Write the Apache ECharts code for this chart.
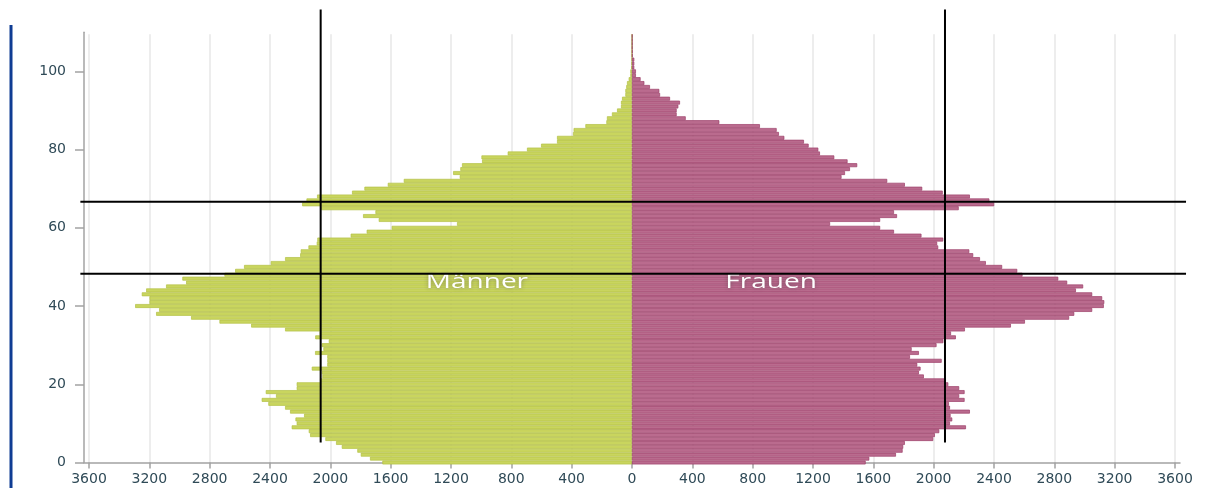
<!DOCTYPE html>
<html>
<head>
<meta charset="utf-8">
<script src="https://cdn.jsdelivr.net/npm/echarts@6/dist/echarts.min.js"></script>
<style>
html, body { margin: 0; padding: 0; background: #ffffff; }
#chart { width: 1205px; height: 488px; }
</style>
</head>
<body>
<div id="chart"></div>
<script>
// ---- data ----
const ages = Array.from({ length: 110 }, (_, i) => i);   // age categories 0..109

const maleValues = [
  1655, 1737, 1798, 1821, 1924, 1962, 2033, 2134, 2143, 2256,
  2223, 2231, 2174, 2267, 2300, 2411, 2455, 2360, 2428, 2223,
  2223, 2068, 2053, 2057, 2123, 2020, 2020, 2020, 2101, 2046,
  2057, 2010, 2100, 2070, 2300, 2525, 2735, 2923, 3155, 3135,
  3294, 3199, 3199, 3250, 3221, 3089, 2956, 2981, 2702, 2631,
  2572, 2395, 2300, 2200, 2196, 2145, 2090, 2086, 1865, 1759,
  1593, 1160, 1679, 1783, 1701, 2061, 2187, 2158, 2088, 1856,
  1774, 1619, 1513, 1142, 1186, 1138, 1127, 994, 998, 824,
  696, 603, 497, 497, 391, 387, 309, 170, 166, 133,
  99, 73, 73, 66, 44, 44, 38, 33, 22, 11,
  11, 5, 3, 2, 1, 1, 0, 0, 0, 0
];

const femaleValues = [
  1549, 1573, 1750, 1794, 1798, 1809, 1997, 2008, 2037, 2214,
  2108, 2123, 2112, 2240, 2108, 2101, 2205, 2169, 2205, 2169,
  2097, 2081, 1935, 1902, 1913, 1891, 2053, 1843, 1902, 1854,
  2019, 2064, 2147, 2115, 2207, 2512, 2605, 2898, 2932, 3051,
  3128, 3131, 3117, 3051, 2943, 2991, 2885, 2826, 2589, 2554,
  2454, 2346, 2307, 2262, 2236, 2030, 2023, 2063, 1919, 1737,
  1645, 1313, 1645, 1757, 1737, 2166, 2401, 2369, 2240, 2060,
  1924, 1809, 1692, 1389, 1412, 1445, 1493, 1429, 1341, 1246,
  1235, 1171, 1140, 1010, 974, 959, 848, 579, 356, 296,
  296, 307, 318, 252, 186, 181, 119, 82, 57, 26,
  26, 15, 15, 15, 4, 4, 3, 3, 3, 3
];

const xTicks = [-3600, -3200, -2800, -2400, -2000, -1600, -1200, -800, -400, 0,
                400, 800, 1200, 1600, 2000, 2400, 2800, 3200, 3600];
const yTicks = [0, 20, 40, 60, 80, 100];

const seriesNames = ['Männer', 'Frauen'];
const labelAnchors = [[-1028, 46.1], [922, 46.1]];   // where the two group labels sit (value, age)

const refLinesX = [-2064, 2075];     // vertical reference lines (value)
const refLinesY = [48.26, 66.67];    // horizontal reference lines (age)
const refLineXSpan = [-3657, 3673];  // horizontal extent of the horizontal lines
const refLineYSpan = [5.1, 115.8];   // vertical extent of the vertical lines

// ---- chart ----
const chart = echarts.init(document.getElementById('chart'), null, { renderer: 'canvas' });

const labelColor = '#2f4a57';
const axisGray = '#a3a3a3';
const fontFam = '"DejaVu Sans", "Open Sans", sans-serif';

const option = {
  animation: false,
  backgroundColor: '#ffffff',
  grid: [
    { left: 84, right: 25, top: 32.2, bottom: 25.5, containLabel: false },
    { left: 89, right: 30, top: 34.15, bottom: 23.55, containLabel: false }
  ],
  xAxis: [
    {
      type: 'value', gridIndex: 0, min: -3633, max: 3633,
      axisLine: { show: true, onZero: false, lineStyle: { color: axisGray, width: 1.5 } },
      axisTick: { show: true, length: 6, customValues: xTicks, lineStyle: { color: axisGray, width: 1.5 } },
      axisLabel: {
        show: true, customValues: xTicks, margin: 10,
        formatter: v => String(Math.abs(v)),
        color: labelColor, fontSize: 14, fontFamily: fontFam
      },
      splitLine: { show: false }
    },
    {
      type: 'value', gridIndex: 1, min: -3600, max: 3600, interval: 400,
      axisLine: { show: false }, axisTick: { show: false }, axisLabel: { show: false },
      splitLine: { show: true, lineStyle: { color: '#e7e7e7', width: 1.5 } }
    }
  ],
  yAxis: [
    {
      type: 'value', gridIndex: 0, min: 0, max: 110,
      axisLine: { show: true, onZero: false, lineStyle: { color: axisGray, width: 1.5 } },
      axisTick: { show: true, length: 9, customValues: yTicks, lineStyle: { color: axisGray, width: 1.5 } },
      axisLabel: {
        show: true, customValues: yTicks, margin: 18,
        color: labelColor, fontSize: 14, fontFamily: fontFam
      },
      splitLine: { show: false }
    },
    {
      type: 'category', gridIndex: 1, data: ages, boundaryGap: true, show: false
    }
  ],
  series: [
    {
      name: seriesNames[0], type: 'bar', xAxisIndex: 1, yAxisIndex: 1,
      data: maleValues.map(v => -v),
      barGap: '-100%', barCategoryGap: '0%', clip: false,
      itemStyle: { color: '#c9d55e', borderColor: '#b3c046', borderWidth: 0.7 },
      silent: true
    },
    {
      name: seriesNames[1], type: 'bar', xAxisIndex: 1, yAxisIndex: 1,
      data: femaleValues,
      barGap: '-100%', barCategoryGap: '0%', clip: false,
      itemStyle: { color: '#ba6b8e', borderColor: '#9c3f69', borderWidth: 0.7 },
      silent: true
    }
  ]
};

chart.setOption(option);

function px(x, y) {
  return chart.convertToPixel({ gridIndex: 0 }, [x, y]);
}

const graphics = [];
// page accent bar on the far left
graphics.push({
  type: 'rect', shape: { x: 9.5, y: 25, width: 3, height: 463 },
  style: { fill: '#0f3c93' }, z: 50, silent: true
});
// group labels
seriesNames.forEach((name, i) => {
  const p = px(labelAnchors[i][0], labelAnchors[i][1]);
  graphics.push({
    type: 'text', x: p[0], y: p[1], scaleX: 1.4, scaleY: 1, z: 60, silent: true,
    style: {
      text: name, fill: '#ffffff',
      font: '20px "Open Sans", "DejaVu Sans", sans-serif',
      align: 'center', verticalAlign: 'middle',
      textShadowColor: 'rgba(60,60,60,0.45)', textShadowBlur: 4
    }
  });
});
// horizontal reference lines
refLinesY.forEach(a => {
  const p1 = px(refLineXSpan[0], a), p2 = px(refLineXSpan[1], a);
  graphics.push({
    type: 'line', z: 70, silent: true,
    shape: { x1: p1[0], y1: p1[1], x2: p2[0], y2: p2[1] },
    style: { stroke: '#000000', lineWidth: 2 }
  });
});
// vertical reference lines
refLinesX.forEach(v => {
  const p1 = px(v, refLineYSpan[0]), p2 = px(v, refLineYSpan[1]);
  graphics.push({
    type: 'line', z: 70, silent: true,
    shape: { x1: p1[0], y1: p1[1], x2: p2[0], y2: p2[1] },
    style: { stroke: '#000000', lineWidth: 2 }
  });
});

chart.setOption({ graphic: graphics });
</script>
</body>
</html>
